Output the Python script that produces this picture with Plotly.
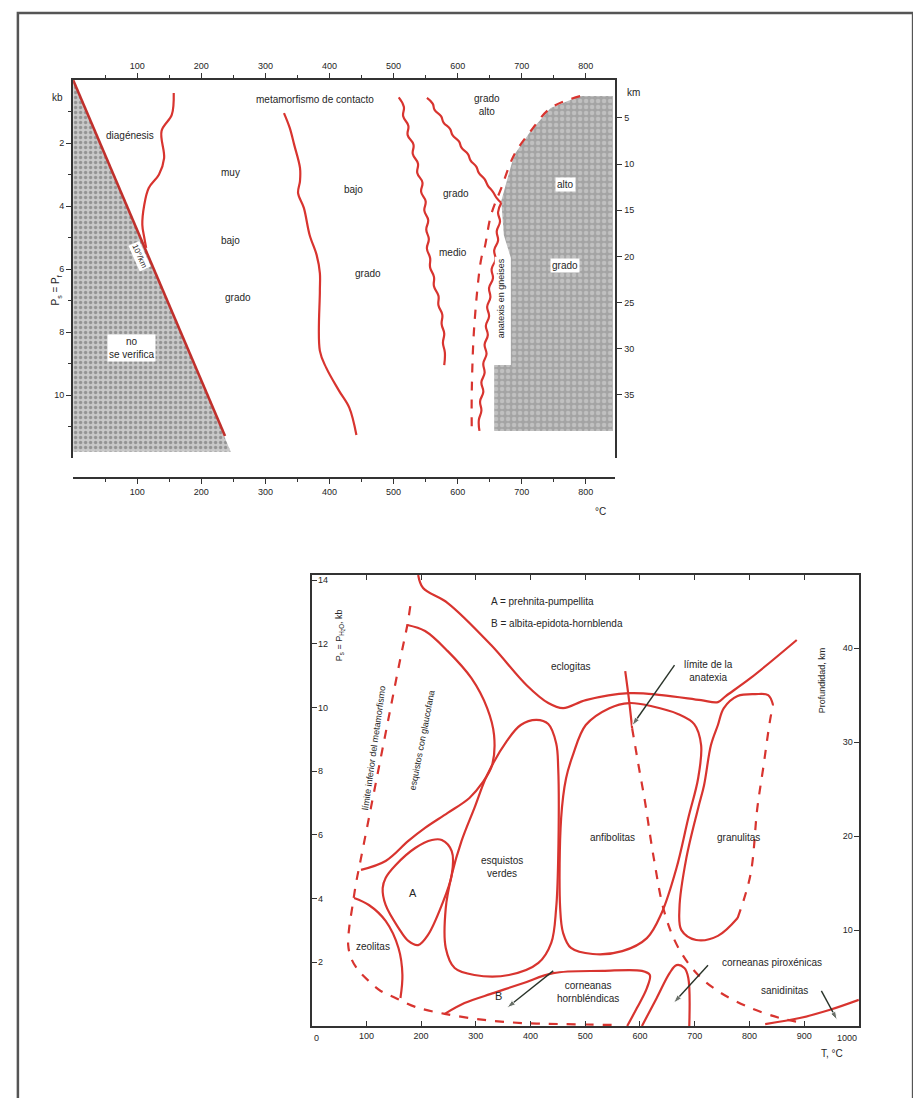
import plotly.graph_objects as go

# ---------------- TOP CHART DATA (T in °C, P in kb) ----------------
diag_T = [0, 237]
diag_P = [0, 11.3]
shade1_T = [0, 246, 0, 0]
shade1_P = [0, 11.8, 11.8, 0]

lineA_T = [157, 154, 138, 142, 134, 118, 111, 108, 111, 114]
lineA_P = [0.41, 1.1, 1.62, 2.48, 3.0, 3.43, 3.97, 4.6, 5.0, 5.33]

lineB_T = [329, 338, 345, 354, 354, 351, 360, 369, 380, 385, 385, 385, 395, 415, 431, 442]
lineB_P = [1.05, 1.52, 2.06, 2.79, 3.21, 3.59, 4.06, 4.92, 5.56, 6.13, 6.70, 8.60, 9.14, 9.87, 10.41, 11.27]

lineC_T = [508, 516, 515, 523, 522, 531, 530, 538, 537, 545, 543, 550, 548, 554, 551, 555, 552, 557,
           557, 563, 563, 570, 570, 576, 575, 579, 577, 580, 579]
lineC_P = [0.55, 0.85, 1.15, 1.45, 1.75, 2.05, 2.35, 2.65, 2.95, 3.25, 3.55, 3.85, 4.15, 4.45, 4.75,
           5.05, 5.35, 5.65, 5.95, 6.25, 6.55, 6.85, 7.15, 7.45, 7.75, 8.05, 8.35, 8.65, 9.05]

lineD_T = [552, 561, 564, 574, 578, 588, 592, 602, 606, 616, 620, 629, 633, 642, 647, 655, 661, 668]
lineD_P = [0.57, 0.75, 0.95, 1.15, 1.35, 1.55, 1.75, 1.95, 2.15, 2.35, 2.55, 2.75, 2.95, 3.15, 3.35,
           3.55, 3.75, 3.9]

lineF_T = [668, 663, 666, 661, 663, 657, 659, 653, 655, 649, 651, 646, 649, 644, 647, 642, 645, 640,
           642, 637, 640, 635, 637, 633, 634]
lineF_P = [3.9, 4.2, 4.5, 4.8, 5.1, 5.4, 5.7, 6.0, 6.3, 6.6, 6.9, 7.2, 7.5, 7.8, 8.1, 8.4, 8.7, 9.0,
           9.3, 9.6, 9.9, 10.2, 10.5, 10.8, 11.14]

lineE_T = [791, 745, 714, 688, 668, 652, 642, 637, 626, 622, 622]
lineE_P = [0.51, 0.89, 1.62, 2.38, 3.43, 4.29, 5.33, 5.65, 7.78, 9.87, 11.14]

shade2_T = [791, 842, 842, 657, 657, 683, 683, 672, 668, 688, 714, 745, 791]
shade2_P = [0.51, 0.51, 11.14, 11.14, 9.05, 9.05, 5.65, 4.92, 3.84, 2.38, 1.62, 0.89, 0.51]

top_xticks = [100, 200, 300, 400, 500, 600, 700, 800]
top_xminor = [50, 150, 250, 350, 450, 550, 650, 750]
top_yticks = [2, 4, 6, 8, 10]
top_yminor = [1, 3, 5, 7, 9, 11]
top_kmticks = [5, 10, 15, 20, 25, 30, 35]

# ---------------- BOTTOM CHART DATA (T in °C, P in kb) ----------------
limit_T = [180.2, 174.8, 162.2, 144.1, 126.1, 108.1, 90.1, 81.1, 73.9, 68.5, 66.7, 72.1, 84.7, 104.5,
           126.1, 153.2, 189.2, 243.2, 315.3, 387.4, 459.5, 558.6]
limit_P = [13.18, 12.59, 11.55, 9.98, 8.41, 6.84, 5.27, 4.49, 3.70, 3.08, 2.54, 2.13, 1.76, 1.41,
           1.10, 0.88, 0.60, 0.38, 0.19, 0.09, 0.06, 0.03]

glauc_T = [174.8, 207.2, 248.6, 291.9, 320.7, 333.3, 329.7, 311.7, 288.3, 248.6, 207.2, 176.6, 135.1, 90.1]
glauc_P = [12.59, 12.40, 11.77, 10.92, 9.98, 9.13, 8.19, 7.63, 7.16, 6.69, 6.22, 5.81, 5.18, 4.90]

eclog_T = [194.6, 203.6, 248.6, 327.9, 392.8, 432.4, 459.5, 500.9, 580.2, 639.6, 711.7, 742.4, 756.8,
           801.8, 886.5]
eclog_P = [14.16, 13.75, 13.28, 11.96, 10.70, 10.14, 9.98, 10.23, 10.45, 10.39, 10.23, 10.17, 10.36,
           10.92, 12.12]

green_T = [410.8, 432.4, 446.8, 450.5, 450.5, 446.8, 437.8, 414.4, 360.4, 297.3, 261.3, 245.0, 245.0,
           255.9, 273.9, 297.3, 320.7, 356.8, 382.0, 410.8]
green_P = [9.61, 9.48, 8.88, 8.10, 5.27, 3.70, 2.61, 1.98, 1.60, 1.60, 1.82, 2.45, 3.70, 4.74, 5.81,
           6.84, 7.88, 8.95, 9.45, 9.61]

amph_T = [580.2, 621.6, 670.3, 699.1, 711.7, 706.3, 688.3, 666.7, 639.6, 612.6, 567.6, 513.5, 473.9,
          459.5, 454.1, 455.9, 464.9, 477.5, 500.9, 544.1, 580.2]
amph_P = [10.14, 10.04, 9.79, 9.48, 8.82, 7.78, 6.53, 4.96, 3.55, 2.76, 2.35, 2.26, 2.45, 2.92, 3.70,
          6.53, 7.78, 8.51, 9.45, 9.98, 10.14]

granS_T = [843.2, 834.2, 810.8, 778.4, 753.2, 742.4, 729.7, 717.1, 706.3, 684.7, 672.1, 675.7, 702.7,
           742.4, 778.4]
granS_P = [10.08, 10.39, 10.42, 10.36, 9.98, 9.45, 8.82, 7.56, 6.84, 5.27, 3.70, 3.01, 2.70, 2.83, 3.39]
granD_T = [778.4, 801.8, 814.4, 825.2, 837.8, 843.2]
granD_P = [3.39, 4.74, 6.84, 8.10, 9.61, 10.08]

fieldA_T = [237.8, 255.9, 255.9, 237.8, 212.6, 194.6, 176.6, 158.6, 135.1, 129.7, 135.1, 153.2, 189.2,
            219.8, 237.8]
fieldA_P = [5.84, 5.49, 4.74, 3.80, 2.86, 2.54, 2.67, 3.08, 3.80, 4.33, 4.65, 5.05, 5.59, 5.84, 5.84]

zeol_T = [77.5, 104.5, 135.1, 158.6, 165.8, 162.2]
zeol_P = [4.02, 3.80, 3.30, 2.45, 1.60, 0.88]

hbl_T = [243.2, 279.3, 333.3, 387.4, 441.4, 531.5, 603.6, 618.0, 612.6, 594.6, 576.6]
hbl_P = [0.38, 0.72, 1.04, 1.35, 1.66, 1.73, 1.73, 1.60, 1.19, 0.57, 0.0]

pyx_T = [603.6, 630.6, 654.1, 666.7, 681.1, 688.3, 690.1]
pyx_P = [0.0, 0.88, 1.66, 1.91, 1.82, 1.51, 0.0]

anatS_T = [573.0, 580.2, 585.6]
anatS_P = [11.14, 10.20, 9.35]
anatD_T = [585.6, 598.2, 609.0, 625.2, 645.0, 670.3, 706.3, 747.7, 801.8, 855.9, 891.0]
anatD_P = [9.35, 8.10, 7.06, 5.27, 3.55, 2.45, 1.60, 1.04, 0.57, 0.25, 0.12]

sanid_T = [828.8, 891.9, 945.9, 1000]
sanid_P = [0.06, 0.25, 0.50, 0.82]

# pointer lines: [tail_T, head_T], [tail_P, head_P]
ptr_anat_T = [663.1, 585.6]
ptr_anat_P = [11.33, 9.43]
ptr_B_T = [441.4, 356.8]
ptr_B_P = [1.73, 0.57]
ptr_pyx_T = [724.3, 661.3]
ptr_pyx_P = [1.91, 0.72]
ptr_san_T = [931.5, 960.4]
ptr_san_P = [1.10, 0.19]

bot_xticks = [0, 100, 200, 300, 400, 500, 600, 700, 800, 900, 1000]
bot_yticks = [2, 4, 6, 8, 10, 12, 14]
bot_kmticks = [10, 20, 30, 40]

# ---------------- FIGURE ----------------
W, H = 921, 1098
RED = "#d8342f"
INK = "#262626"
FONT = "Liberation Sans, Arial, sans-serif"

fig = go.Figure()

def add_line(xs, ys, ax="x", ay="y", dash="solid", width=2.2, color=RED, shape="spline", smooth=1.0):
    fig.add_trace(go.Scatter(x=xs, y=ys, mode="lines", xaxis=ax, yaxis=ay,
                             line=dict(color=color, width=width, dash=dash, shape=shape, smoothing=smooth),
                             hoverinfo="skip", showlegend=False))

# shaded areas (top)
fig.add_trace(go.Scatter(x=shade1_T, y=shade1_P, mode="lines", fill="toself", xaxis="x", yaxis="y",
                         line=dict(width=0, color="rgba(0,0,0,0)"),
                         fillpattern=dict(shape=".", bgcolor="#c8c8c8", fgcolor="#5e5e5e", size=5, solidity=0.35),
                         hoverinfo="skip", showlegend=False))
fig.add_trace(go.Scatter(x=shade2_T, y=shade2_P, mode="lines", fill="toself", xaxis="x", yaxis="y",
                         line=dict(width=0, color="rgba(0,0,0,0)"),
                         fillpattern=dict(shape=".", bgcolor="#a4a4a4", fgcolor="#dcdcdc", size=6, solidity=0.45),
                         hoverinfo="skip", showlegend=False))

add_line(diag_T, diag_P, shape="linear", width=2.6, color="#c0302c")
add_line(lineA_T, lineA_P)
add_line(lineB_T, lineB_P)
add_line(lineC_T, lineC_P, smooth=1.3)
add_line(lineD_T, lineD_P, smooth=1.3)
add_line(lineF_T, lineF_P, smooth=1.3)
add_line(lineE_T, lineE_P, dash="dash")

# bottom lines
B = dict(ax="x3", ay="y3")
add_line(limit_T, limit_P, dash="dash", **B)
add_line(glauc_T, glauc_P, **B)
add_line(eclog_T, eclog_P, **B)
add_line(green_T, green_P, **B)
add_line(amph_T, amph_P, **B)
add_line(granS_T, granS_P, **B)
add_line(granD_T, granD_P, dash="dash", **B)
add_line(fieldA_T, fieldA_P, **B)
add_line(zeol_T, zeol_P, **B)
add_line(hbl_T, hbl_P, **B)
add_line(pyx_T, pyx_P, **B)
add_line(anatS_T, anatS_P, **B)
add_line(anatD_T, anatD_P, dash="dash", **B)
add_line(sanid_T, sanid_P, **B)

# pointer lines with arrow heads
for xs, ys in [(ptr_anat_T, ptr_anat_P), (ptr_B_T, ptr_B_P), (ptr_pyx_T, ptr_pyx_P), (ptr_san_T, ptr_san_P)]:
    fig.add_trace(go.Scatter(x=xs, y=ys, mode="lines+markers", xaxis="x3", yaxis="y3",
                             line=dict(color="#2a342a", width=1.4),
                             marker=dict(symbol="arrow", size=[0, 9], angleref="previous", color="#2a342a"),
                             hoverinfo="skip", showlegend=False))

def px(x):
    return x / W

def py(y):
    return 1 - y / H

axline = dict(showline=True, linecolor="#333333", linewidth=2, showgrid=False, zeroline=False,
              tickfont=dict(family=FONT, size=9, color=INK), tickcolor="#333333")

fig.update_layout(
    width=W, height=H, margin=dict(l=0, r=0, t=0, b=0),
    paper_bgcolor="white", plot_bgcolor="rgba(0,0,0,0)",
    showlegend=False,
    xaxis=dict(domain=[px(63), px(613)], range=[0, 846], side="top", anchor="y",
               tickmode="array", tickvals=top_xticks, ticks="outside", ticklen=5,
               minor=dict(tickvals=top_xminor, ticks="outside", ticklen=3, tickcolor="#333"), **axline),
    yaxis=dict(domain=[py(450), py(72)], range=[12, 0], anchor="x",
               tickmode="array", tickvals=top_yticks, ticks="outside", ticklen=5,
               minor=dict(tickvals=top_yminor, ticks="outside", ticklen=3, tickcolor="#333"), **axline),
    yaxis2=dict(overlaying="y", side="right", anchor="x", range=[41.84, 0.89],
                tickmode="array", tickvals=top_kmticks, ticks="outside", ticklen=5, **axline),
    xaxis2=dict(overlaying="x", side="bottom", anchor="free", position=py(470), range=[0, 846],
                tickmode="array", tickvals=top_xticks, ticks="outside", ticklen=5,
                minor=dict(tickvals=top_xminor, ticks="outside", ticklen=3, tickcolor="#333"), **axline),
    xaxis3=dict(domain=[px(305), px(860)], range=[0, 1000], anchor="y3",
                tickmode="array", tickvals=bot_xticks, ticks="inside", ticklen=5, mirror="ticks", **axline),
    yaxis3=dict(domain=[py(1018), py(567)], range=[0, 14.16], anchor="x3",
                tickmode="array", tickvals=bot_yticks, ticks="inside", ticklen=5,
                ticklabelposition="inside", **axline),
    yaxis4=dict(overlaying="y3", side="right", anchor="x3", range=[-0.21, 47.77],
                tickmode="array", tickvals=bot_kmticks, ticks="inside", ticklen=5,
                ticklabelposition="inside", **axline),
)
# traces to make overlaid axes render
fig.add_trace(go.Scatter(x=[None], y=[None], xaxis="x2", yaxis="y2", showlegend=False, hoverinfo="skip"))
fig.add_trace(go.Scatter(x=[None], y=[None], xaxis="x3", yaxis="y4", showlegend=False, hoverinfo="skip"))

tf = dict(family=FONT, size=10, color=INK)
ann = []

def t(text, x, y, xr="x", yr="y", angle=0, bg=None, size=10, xanchor="center", align="center"):
    d = dict(text=text, x=x, y=y, xref=xr, yref=yr, showarrow=False, textangle=angle,
             font=dict(family=FONT, size=size, color=INK), xanchor=xanchor, align=align)
    if bg:
        d["bgcolor"] = bg
        d["borderpad"] = 1
    ann.append(d)

# top chart labels
t("metamorfismo de contacto", 377, 0.63)
t("grado<br>alto", 645, 0.79)
t("diagénesis", 88, 1.75)
t("muy", 245, 2.95)
t("bajo", 245, 5.08)
t("grado", 257, 6.89)
t("bajo", 438, 3.49)
t("grado", 460, 6.13)
t("grado", 598, 3.59)
t("medio", 592, 5.49)
t("alto", 768, 3.33, bg="white")
t("grado", 768, 5.9, bg="white")
t("anatexis en gneises", 668, 6.92, angle=-90, bg="white", size=9)
t("no<br>se verifica", 91, 8.5, bg="white")
t("10°/km", 104, 5.6, angle=66, bg="white", size=8)

# paper-positioned labels
ann.append(dict(text="kb", x=px(40), y=py(82), xref="paper", yref="paper", showarrow=False, font=tf))
ann.append(dict(text="km", x=px(640), y=py(77), xref="paper", yref="paper", showarrow=False, font=tf))
ann.append(dict(text="°C", x=px(598), y=py(503), xref="paper", yref="paper", showarrow=False, font=tf))
ann.append(dict(text="P<sub>s</sub> = P<sub>f</sub>", x=px(38), y=py(265), xref="paper", yref="paper",
                showarrow=False, textangle=-90, font=tf))

# bottom chart labels
B3 = dict(xr="x3", yr="y3")
t("A = prehnita-pumpellita", 324.3, 13.34, xanchor="left", **B3)
t("B = albita-epidota-hornblenda", 324.3, 12.65, xanchor="left", **B3)
t("eclogitas", 472.1, 11.30, **B3)
t("límite de la<br>anatexia", 724.3, 11.14, **B3)
t("esquistos con glaucofana", 201.8, 8.98, angle=-79, size=9, **B3)
t("límite inferior del metamorfismo", 113.5, 8.73, angle=-82, size=9, **B3)
t("A", 185.6, 4.17, size=11, **B3)
t("esquistos<br>verdes", 347.7, 4.99, **B3)
t("anfibolitas", 549.5, 5.93, **B3)
t("granulitas", 780.2, 5.93, **B3)
t("zeolitas", 111.7, 2.51, **B3)
t("B", 342.3, 0.94, size=11, **B3)
t("corneanas<br>hornbléndicas", 504.5, 1.07, **B3)
t("corneanas piroxénicas", 841.4, 1.98, **B3)
t("sanidinitas", 864.9, 1.13, **B3)

# end labels of the bottom T axis (plotly hides these next to inside y labels)
for lbl, xpix in [("0", 305), ("1000", 860)]:
    ann.append(dict(text=lbl, x=px(xpix), y=py(1030), xref="paper", yref="paper", yanchor="middle",
                    showarrow=False, font=dict(family=FONT, size=9, color=INK)))
ann.append(dict(text="T, °C", x=px(846), y=py(1053), xref="paper", yref="paper", showarrow=False, font=tf))
ann.append(dict(text="P<sub>s</sub> = P<sub>H<sub>2</sub>O</sub>, kb", x=px(334), y=py(627), xref="paper",
                yref="paper", showarrow=False, textangle=-90, font=dict(family=FONT, size=9, color=INK)))
ann.append(dict(text="Profundidad, km", x=px(830), y=py(672), xref="paper", yref="paper",
                showarrow=False, textangle=-90, font=dict(family=FONT, size=9, color=INK)))

fig.update_layout(annotations=ann)

# page border
fig.add_shape(type="rect", xref="paper", yref="paper", x0=px(7), x1=px(915), y0=py(1093), y1=py(5),
              line=dict(color="#555555", width=2.5))

fig.write_html("out.html")
